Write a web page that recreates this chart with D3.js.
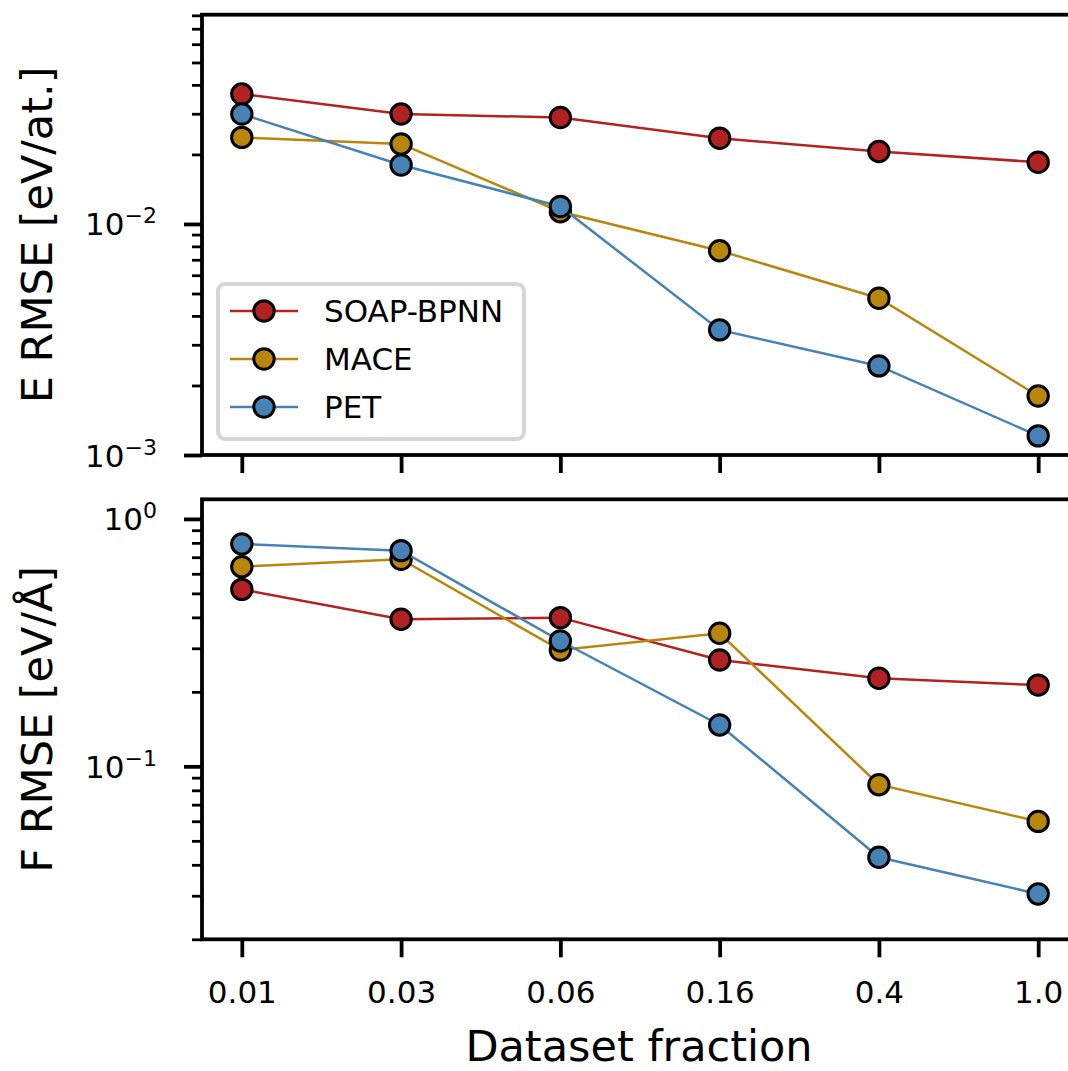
<!DOCTYPE html>
<html>
<head>
<meta charset="utf-8">
<script src="https://cdn.jsdelivr.net/npm/d3@7"></script>
<style>
  html, body { margin: 0; padding: 0; background: #fff; }
  svg { display: block; font-family: "DejaVu Sans", sans-serif; }
</style>
</head>
<body>
<svg id="chart" width="1068" height="1071"></svg>
<script>
// ---- data ----
const fractions = ["0.01", "0.03", "0.06", "0.16", "0.4", "1.0"];
const seriesNames = ["SOAP-BPNN", "MACE", "PET"];
const seriesColors = ["#b22222", "#b8860b", "#4682b4"];

const energySOAP = [0.0365, 0.0299, 0.0289, 0.0235, 0.0206, 0.0185];
const energyMACE = [0.0237, 0.0222, 0.0113, 0.00766, 0.00477, 0.00180];
const energyPET  = [0.0299, 0.0180, 0.0119, 0.00348, 0.00243, 0.00121];

const forceSOAP = [0.519, 0.393, 0.399, 0.269, 0.227, 0.213];
const forceMACE = [0.641, 0.687, 0.295, 0.345, 0.0843, 0.0599];
const forcePET  = [0.792, 0.744, 0.321, 0.147, 0.0429, 0.0305];

const energyMajor = [1e-3, 1e-2];
const energyMajorLabels = [["10", "\u22123"], ["10", "\u22122"]];
const forceMajor = [1e-1, 1e0];
const forceMajorLabels = [["10", "\u22121"], ["10", "0"]];

// ---- layout ----
const svg = d3.select("#chart");
const left = 202, right = 1078;
const x = d3.scaleLinear().domain([-0.25, 5.25]).range([left, right]);

const panels = [
  { top: 14.7, bottom: 455, domain: [0.001, 0.0805], data: [energySOAP, energyMACE, energyPET],
    major: energyMajor, majorLabels: energyMajorLabels, label: "E RMSE [eV/at.]", xlabels: false },
  { top: 499.3, bottom: 939.3, domain: [0.02, 1.2], data: [forceSOAP, forceMACE, forcePET],
    major: forceMajor, majorLabels: forceMajorLabels, label: "F RMSE [eV/\u00C5]", xlabels: true }
];

function minorTicks(domain) {
  const out = [];
  for (let e = -4; e <= 1; e++) {
    for (let m = 2; m <= 9; m++) {
      const v = m * Math.pow(10, e);
      if (v >= domain[0] * 0.999 && v <= domain[1]) out.push(v);
    }
  }
  return out;
}

const idx = d3.range(fractions.length);

panels.forEach(p => {
  const y = d3.scaleLog().domain(p.domain).range([p.bottom, p.top]);
  const g = svg.append("g");

  // series
  p.data.forEach((vals, si) => {
    const line = d3.line().x((d, i) => x(i)).y(d => y(d));
    g.append("path").datum(vals)
      .attr("d", line).attr("fill", "none")
      .attr("stroke", seriesColors[si]).attr("stroke-width", 2.5);
    g.selectAll(null).data(vals).enter().append("circle")
      .attr("cx", (d, i) => x(i)).attr("cy", d => y(d)).attr("r", 10.2)
      .attr("fill", seriesColors[si]).attr("stroke", "#000").attr("stroke-width", 3);
  });

  // y minor ticks
  const yMinor = d3.axisLeft(y).tickValues(minorTicks(p.domain)).tickSize(10).tickFormat("");
  const gm = svg.append("g").attr("transform", `translate(${left},0)`).call(yMinor);
  gm.select(".domain").remove();
  gm.selectAll(".tick line").attr("stroke", "#000").attr("stroke-width", 2.8);

  // y major ticks
  const yMajor = d3.axisLeft(y).tickValues(p.major).tickSize(18).tickFormat("");
  const gM = svg.append("g").attr("transform", `translate(${left},0)`).call(yMajor);
  gM.select(".domain").remove();
  gM.selectAll(".tick line").attr("stroke", "#000").attr("stroke-width", 3.8);

  p.major.forEach((v, k) => {
    const t = svg.append("text").attr("x", 157).attr("y", y(v) + 11.5)
      .attr("text-anchor", "end").attr("font-size", 31).attr("fill", "#000");
    t.append("tspan").text(p.majorLabels[k][0]);
    t.append("tspan").attr("dy", -12).attr("font-size", 22).text(p.majorLabels[k][1]);
  });

  // x ticks
  const xAxis = d3.axisBottom(x).tickValues(idx).tickSize(18)
    .tickFormat(i => p.xlabels ? fractions[i] : "");
  const gx = svg.append("g").attr("transform", `translate(0,${p.bottom})`).call(xAxis);
  gx.select(".domain").remove();
  gx.selectAll(".tick line").attr("stroke", "#000").attr("stroke-width", 3.8);
  gx.selectAll(".tick text").attr("font-size", 31).attr("fill", "#000")
    .attr("font-family", "DejaVu Sans").attr("dy", null).attr("y", 1003 - p.bottom)
    .attr("dominant-baseline", "auto");

  // spines
  svg.append("rect").attr("x", left).attr("y", p.top)
    .attr("width", right - left).attr("height", p.bottom - p.top)
    .attr("fill", "none").attr("stroke", "#000").attr("stroke-width", 3.8);

  // y label
  const cy = (p.top + p.bottom) / 2;
  svg.append("text").attr("transform", `translate(52,${cy}) rotate(-90)`)
    .attr("text-anchor", "middle").attr("font-size", 43).attr("fill", "#000")
    .text(p.label);

  if (p.xlabels) {
    svg.append("text").attr("x", (left + right) / 2 - 1).attr("y", 1061)
      .attr("text-anchor", "middle").attr("font-size", 43).attr("fill", "#000")
      .text("Dataset fraction");
  }
});

// legend (top panel)
const lg = svg.append("g");
lg.append("rect").attr("x", 218).attr("y", 284).attr("width", 306).attr("height", 155)
  .attr("rx", 7).attr("ry", 7).attr("fill", "#fff").attr("fill-opacity", 0.85)
  .attr("stroke", "#d6d6d6").attr("stroke-width", 4);
const legendY = d3.scalePoint().domain(seriesNames).range([311, 407]);
seriesNames.forEach((name, si) => {
  const yy = legendY(name);
  lg.append("line").attr("x1", 230).attr("x2", 298).attr("y1", yy).attr("y2", yy)
    .attr("stroke", seriesColors[si]).attr("stroke-width", 2.5);
  lg.append("circle").attr("cx", 264).attr("cy", yy).attr("r", 10.2)
    .attr("fill", seriesColors[si]).attr("stroke", "#000").attr("stroke-width", 3);
  lg.append("text").attr("x", 324).attr("y", yy + 11).attr("font-size", 31)
    .attr("fill", "#000").text(name);
});
</script>
</body>
</html>
